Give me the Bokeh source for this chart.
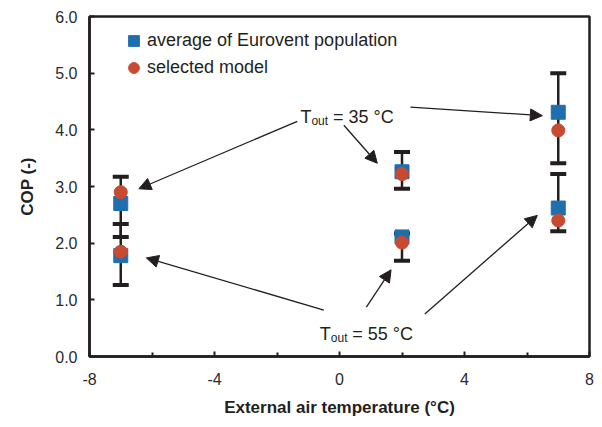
from bokeh.plotting import figure
from bokeh.models import (Range1d, FixedTicker, NumeralTickFormatter, Whisker, TeeHead,
                          ColumnDataSource, Legend, LegendItem, Arrow, NormalHead, Label)
from bokeh.embed import file_html
from bokeh.resources import INLINE

# ---- data ----
temps = [-7, 2, 7]
avg_35 = [2.70, 3.26, 4.31]
model_35 = [2.90, 3.22, 3.99]
low_35 = [2.11, 2.96, 3.41]
high_35 = [3.17, 3.61, 5.00]
avg_55 = [1.78, 2.11, 2.62]
model_55 = [1.85, 2.01, 2.40]
low_55 = [1.26, 1.69, 2.21]
high_55 = [2.34, 2.17, 3.22]

x_ticks = [-8, -4, 0, 4, 8]
x_minor = [-6, -2, 2, 6]
y_ticks = [0, 1, 2, 3, 4, 5, 6]

# annotation arrows (data coords): T_out = 35 (first 3), T_out = 55 (last 3)
arrow_x_start = [-1.35, 0.14, 2.27, -0.50, 0.86, 2.73]
arrow_y_start = [4.15, 4.08, 4.40, 0.82, 0.87, 0.75]
arrow_x_end = [-6.42, 1.21, 6.49, -6.18, 1.65, 6.33]
arrow_y_end = [2.96, 3.41, 4.25, 1.74, 1.53, 2.49]
label_x = [-1.25, -0.63]
label_y = [4.23, 0.40]
label_text = ["35 °C", "55 °C"]

BLUE = "#1f6fae"
RED = "#c84b31"
INK = "#231f20"
FONT = "Liberation Sans"

p = figure(width=594, height=419, x_range=Range1d(-8, 8), y_range=Range1d(0, 6),
           output_backend="svg", toolbar_location=None,
           min_border_left=89, min_border_right=5, min_border_top=16, min_border_bottom=63)
p.grid.visible = False
p.outline_line_color = INK
p.outline_line_width = 2.5

# axes
for ax in (p.xaxis[0], p.yaxis[0]):
    ax.axis_line_color = INK
    ax.axis_line_width = 2.5
    ax.major_tick_line_color = INK
    ax.minor_tick_line_color = INK
    ax.major_tick_line_width = 2
    ax.minor_tick_line_width = 2
    ax.major_tick_out = 0
    ax.major_tick_in = 5
    ax.minor_tick_out = 0
    ax.minor_tick_in = 4
    ax.major_label_text_font = FONT
    ax.major_label_text_font_size = "16px"
    ax.major_label_text_color = "#2b2b2b"
    ax.axis_label_text_font = FONT
    ax.axis_label_text_font_size = "17px"
    ax.axis_label_text_font_style = "bold"
    ax.axis_label_text_color = INK

p.xaxis.ticker = FixedTicker(ticks=x_ticks, minor_ticks=x_minor)
p.xaxis.formatter = NumeralTickFormatter(format="0")
p.yaxis.ticker = FixedTicker(ticks=y_ticks, minor_ticks=[])
p.yaxis.formatter = NumeralTickFormatter(format="0.0")
p.xaxis.axis_label = "External air temperature (°C)"
p.yaxis.axis_label = "COP (-)"
p.xaxis.major_label_standoff = 16
p.xaxis.axis_label_standoff = 10
p.yaxis.major_label_standoff = 12
p.yaxis.axis_label_standoff = 15

# error bars
for low, high in ((low_35, high_35), (low_55, high_55)):
    src = ColumnDataSource(dict(x=temps, lo=low, hi=high))
    w = Whisker(source=src, base="x", lower="lo", upper="hi", dimension="height",
                line_color=INK, line_width=2.5,
                upper_head=TeeHead(size=16, line_width=4, line_color=INK),
                lower_head=TeeHead(size=16, line_width=4, line_color=INK))
    w.level = "underlay"
    p.add_layout(w)

# markers
sq1 = p.scatter(temps, avg_35, marker="square", size=14, fill_color=BLUE, line_color=BLUE)
sq2 = p.scatter(temps, avg_55, marker="square", size=14, fill_color=BLUE, line_color=BLUE)
c1 = p.scatter(temps, model_35, marker="circle", size=13, fill_color=RED, line_color=RED)
c2 = p.scatter(temps, model_55, marker="circle", size=13, fill_color=RED, line_color=RED)

legend = Legend(items=[LegendItem(label="average of Eurovent population", renderers=[sq1]),
                       LegendItem(label="selected model", renderers=[c1])],
                location=(31, 275), border_line_color=None, background_fill_alpha=0,
                glyph_width=27, glyph_height=27, spacing=0, padding=0, margin=0,
                label_standoff=0, label_text_font=FONT, label_text_font_size="18px",
                label_text_color=INK, label_height=27)
p.add_layout(legend)

# arrows
for xs, ys, xe, ye in zip(arrow_x_start, arrow_y_start, arrow_x_end, arrow_y_end):
    p.add_layout(Arrow(x_start=xs, y_start=ys, x_end=xe, y_end=ye,
                       line_color=INK, line_width=1.3,
                       end=NormalHead(size=12, fill_color=INK, line_color=INK, line_width=1)))

# T_out labels
for lx, ly, lt in zip(label_x, label_y, label_text):
    p.add_layout(Label(x=lx, y=ly, text="T", text_font=FONT, text_font_size="18px",
                       text_color=INK, text_baseline="alphabetic"))
    p.add_layout(Label(x=lx, y=ly, text="out", x_offset=11, y_offset=-4, text_font=FONT,
                       text_font_size="12px", text_color=INK, text_baseline="alphabetic"))
    p.add_layout(Label(x=lx, y=ly, text="= " + lt, x_offset=32.5, text_font=FONT,
                       text_font_size="18px", text_color=INK, text_baseline="alphabetic"))

open("out.html", "w").write(file_html(p, INLINE))
